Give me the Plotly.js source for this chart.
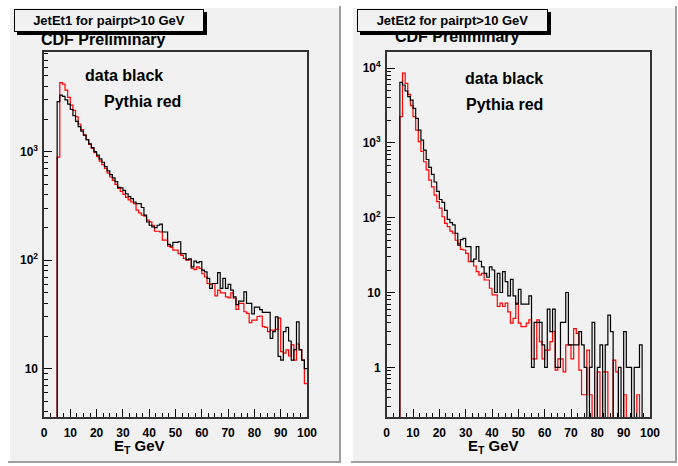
<!DOCTYPE html>
<html><head><meta charset="utf-8">
<script src="https://cdn.plot.ly/plotly-3.0.1.min.js"></script>
<style>html,body{margin:0;padding:0;background:#fff}#plot{width:678px;height:466px}</style>
</head><body><div id="plot"></div>
<script>
// Bin lower edges (GeV), 100 bins of 1 GeV from 0 to 100
const nBins = 100;
// JetEt1 (left) : data (black) and Pythia (red), bins 0..99
const jet1Data = [0,0,0,0,0,2890,3330,3230,3000,2750,2450,2150,1900,1700,1550,1420,1290,1180,1090,1000,
 930,860,800,730,665,615,575,530,470,465,440,410,385,370,344,333,333,306,260,225,
 210,203,200,210,215,182,182,140,135,146,146,148,115,115,101,103,87,98,95,97,
 81,78,68,55,61,61,77,55,68,55,60,53,46,39,42,42,51,40,40,32,
 37,37,35,33,33,33,19,22,30,13,12,22,24,18,12,15,27,15,12,10];
const jet1Pythia = [0,0,0,0,0,890,4330,4200,3700,3170,2690,2400,2100,1800,1600,1420,1290,1170,1070,980,
 900,820,760,700,635,585,545,500,460,430,405,380,360,344,333,289,273,260,255,234,
 226,210,185,185,182,153,153,135,131,124,124,115,111,104,100,101,84,82,87,84,
 75,70,61,60,61,47,53,50,50,46,45,50,44.6,35.3,40,40,33.5,32.4,26.6,28,
 28,30.3,30.6,24.4,24,22,22.7,22.7,23,29.2,14.4,13.9,14.9,13.1,16.6,12,16.9,14.9,12,7.3];
// JetEt2 (right)
const jet2Data = [0,0,0,0,0,6460,5940,4940,4150,3740,2900,2130,1480,1090,800,600,470,380,300,225,
 175,160,125,95,86,80,62,43,51,53,41,41,26,28,41,26,22,18,16,22,
 20,10,18,10,19,14,9,15,9,7,11,7,7,7,9,1,4,4,4,2,
 1,6,3,6,1,1,4,4,10,2,2,2,2,3,2,1,0,1,4,0,
 1,2,0,2,5,3,0,0,1,0,3,1,1,0,1,1,2,0,0,0];
const jet2Pythia = [0,0,0,0,0,2240,8540,6260,4460,3140,2240,1480,1040,767,560,435,318,258,200,164,
 134,103,84,76,66,62,50,45.5,37.8,37,33.4,25.8,25.8,22.6,19,17.1,18,14.7,14.7,11.4,
 9.3,9.3,6.5,7.2,6.5,7.2,5.5,3.9,4.5,7.2,3.9,3.5,3.5,3.9,4.3,1.3,1.3,4.3,2.2,1.3,
 1.7,1.7,2.2,3.0,0.92,1.3,1.3,0.87,2.0,2.0,1.3,3.3,2.85,0.92,0.43,0.43,1.7,0.43,0,0,
 0.87,0,0.87,0.87,0,0,1.25,0.87,0,0,0.43,0,0,0,0,0.43,0,0,0,0];
const xTickVals = [0,10,20,30,40,50,60,70,80,90,100];
const leftYTicks = [10,100,1000];
const leftYText = ['10','10<sup>2</sup>','10<sup>3</sup>'];
const rightYTicks = [1,10,100,1000,10000];
const rightYText = ['1','10','10<sup>2</sup>','10<sup>3</sup>','10<sup>4</sup>'];
const titles = ['JetEt1 for pairpt>10 GeV','JetEt2 for pairpt>10 GeV'];

const W = 678, H = 466;
const fx = x => x / W, fy = y => 1 - y / H;
const edges = Array.from({length: nBins + 1}, (_, i) => i);
function stepY(vals){ const v = vals.map(a => a > 0 ? a : 1e-4); v.push(v[v.length-1]); return v; }
function minorTicks(lo, hi){ const out=[]; for(let d=lo; d<=hi; d++){ for(let m=2;m<=9;m++){ out.push(m*Math.pow(10,d)); } } return out; }

const lineW = 1.2;
const traces = [
 {x: edges, y: stepY(jet1Pythia), xaxis:'x', yaxis:'y', mode:'lines', line:{shape:'hv', color:'#ff0000', width:lineW}, hoverinfo:'skip'},
 {x: edges, y: stepY(jet1Data), xaxis:'x', yaxis:'y', mode:'lines', line:{shape:'hv', color:'#000000', width:lineW}, hoverinfo:'skip'},
 {x: edges, y: stepY(jet2Pythia), xaxis:'x2', yaxis:'y2', mode:'lines', line:{shape:'hv', color:'#ff0000', width:lineW}, hoverinfo:'skip'},
 {x: edges, y: stepY(jet2Data), xaxis:'x2', yaxis:'y2', mode:'lines', line:{shape:'hv', color:'#000000', width:lineW}, hoverinfo:'skip'},
 {x:[0], y:[1e-9], xaxis:'x', yaxis:'y3', mode:'markers', marker:{opacity:0}, hoverinfo:'skip'},
 {x:[0], y:[1e-9], xaxis:'x2', yaxis:'y4', mode:'markers', marker:{opacity:0}, hoverinfo:'skip'}
];

const tickFont = {family:'Liberation Sans, Arial, sans-serif', size:12, color:'#000', weight:'bold'};
const yDom = [fy(417), fy(52)];
const leftRange = [0.555, 3.919];
const rightRange = [-0.664, 4.215];
function xAx(dom, anchor){ return {domain: dom, anchor: anchor, range:[0,100], tickvals: xTickVals, ticks:'inside', ticklen:8, tickwidth:1, tickcolor:'#000',
  minor:{dtick:2.5, tick0:0, ticks:'inside', ticklen:4, tickwidth:1, tickcolor:'#000'},
  showline:true, mirror:true, linecolor:'#333', linewidth:1.6, showgrid:false, zeroline:false, tickfont: tickFont, ticklabelstandoff:4}; }
function yAx(range, tv, tt, anchor){ return {domain: yDom, anchor: anchor, type:'log', range: range, tickmode:'array', tickvals: tv, ticktext: tt,
  ticks:'inside', ticklen:8, tickwidth:1, tickcolor:'#000', showline:true, mirror:true, linecolor:'#333', linewidth:1.6,
  showgrid:false, zeroline:false, tickfont: tickFont, ticklabelstandoff:2}; }
function yMinor(range, over, anchor, lo, hi){ return {overlaying: over, anchor: anchor, type:'log', range: range, tickmode:'array', tickvals: minorTicks(lo,hi),
  ticks:'inside', ticklen:4, tickwidth:1, tickcolor:'#000', showticklabels:false, showline:false, showgrid:false, zeroline:false, side:'left'}; }

const boldFont = (s) => ({family:'Liberation Sans, Arial, sans-serif', size:s, color:'#000', weight:'bold'});
function ann(text, x, y, size, xanchor){ return {text:text, xref:'paper', yref:'paper', x: fx(x), y: fy(y), xanchor: xanchor||'left', yanchor:'middle', showarrow:false, font: boldFont(size)}; }
function box(text, x0, x1, y0, y1, bg){ return {text:text, xref:'paper', yref:'paper', x: fx((x0+x1)/2), y: fy((y0+y1)/2), xanchor:'center', yanchor:'middle',
  showarrow:false, width: x1-x0-2, height: y1-y0-2, bgcolor: bg, bordercolor:'#000', borderwidth:1, borderpad:0, font: boldFont(13)}; }

const annotations = [
 ann('CDF Preliminary', 39, 39, 16),
 ann('CDF Preliminary', 393, 37, 16),
 box('', 17, 207, 12, 35, '#000'),
 box(titles[0], 14, 204, 9, 32, '#f1f1f1'),
 box('', 360, 551, 12, 35, '#000'),
 box(titles[1], 357, 548, 9, 32, '#f1f1f1'),
 ann('data black', 83, 76, 16),
 ann('Pythia red', 102, 101, 16),
 ann('data black', 463, 78, 16),
 ann('Pythia red', 464, 104, 16),
 ann('E<sub>T</sub> GeV', 139, 446, 15, 'center'),
 ann('E<sub>T</sub> GeV', 494, 446, 15, 'center')
];

function rect(x0, x1, y0, y1, fill, lc, lw){ return {type:'rect', xref:'paper', yref:'paper', x0: fx(x0), x1: fx(x1), y0: fy(y1), y1: fy(y0), fillcolor: fill, line:{color: lc, width: lw}, layer:'below'}; }
const shapes = [
 rect(8, 341, 6, 463, '#a0a0a0', 'rgba(0,0,0,0)', 0),
 rect(8, 339, 6, 461, '#ffffff', 'rgba(0,0,0,0)', 0),
 rect(10, 339, 8, 461, '#f1f1f1', 'rgba(0,0,0,0)', 0),
 rect(351, 677, 6, 463, '#a0a0a0', 'rgba(0,0,0,0)', 0),
 rect(351, 675, 6, 461, '#ffffff', 'rgba(0,0,0,0)', 0),
 rect(353, 675, 8, 461, '#f1f1f1', 'rgba(0,0,0,0)', 0)
];

const layout = {
 width: W, height: H, margin:{l:0, r:0, t:0, b:0}, paper_bgcolor:'#ffffff', plot_bgcolor:'rgba(0,0,0,0)', showlegend:false,
 xaxis: xAx([fx(44), fx(307)], 'y'),
 yaxis: yAx(leftRange, leftYTicks, leftYText, 'x'),
 xaxis2: xAx([fx(386.7), fx(650)], 'y2'),
 yaxis2: yAx(rightRange, rightYTicks, rightYText, 'x2'),
 yaxis3: yMinor(leftRange, 'y', 'x', 0, 3),
 yaxis4: yMinor(rightRange, 'y2', 'x2', -1, 4),
 annotations: annotations, shapes: shapes
};
Plotly.newPlot('plot', traces, layout, {staticPlot:true, displayModeBar:false});
</script></body></html>
